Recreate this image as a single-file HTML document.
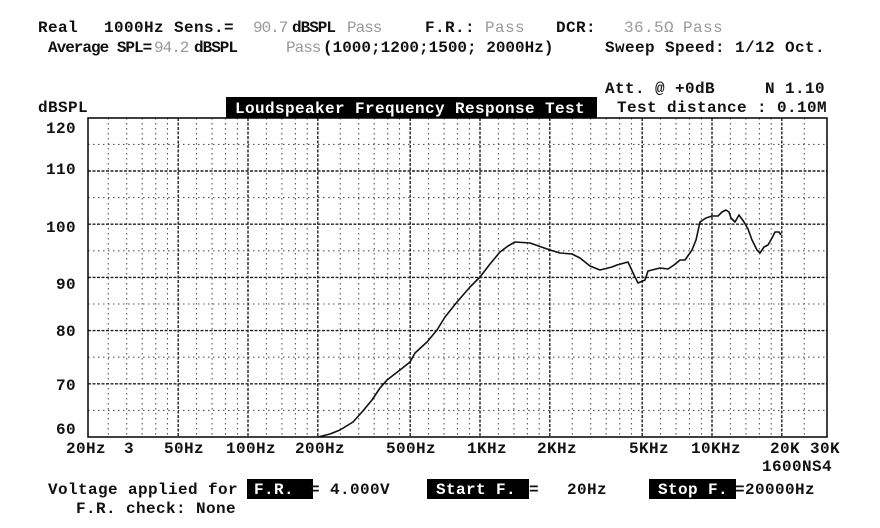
<!DOCTYPE html>
<html><head><meta charset="utf-8"><style>
html,body{margin:0;padding:0;background:#fff;width:880px;height:528px;overflow:hidden}
svg{display:block}
text{font-family:"Liberation Mono",monospace;font-weight:bold;font-size:16px;letter-spacing:0.4px;fill:#111}
.g{fill:#999;font-weight:normal}
.w{fill:#fff}
.n{letter-spacing:-1px}
</style></head><body>
<svg width="880" height="528" viewBox="0 0 880 528" xmlns="http://www.w3.org/2000/svg">
<rect width="880" height="528" fill="#fff"/>
<text x="38" y="32">Real</text>
<text x="104" y="32">1000Hz Sens.=</text>
<text x="253" y="32" class="g n">90.7</text>
<text x="292" y="32" class="n">dBSPL</text>
<text x="347" y="32" class="g n">Pass</text>
<text x="425" y="32">F.R.:</text>
<text x="485" y="32" class="g">Pass</text>
<text x="556" y="32">DCR:</text>
<text x="624" y="32" class="g">36.5Ω</text>
<text x="683" y="32" class="g">Pass</text>
<text x="48" y="52" class="n">Average SPL=</text>
<text x="154" y="52" class="g n">94.2</text>
<text x="194" y="52" class="n">dBSPL</text>
<text x="286" y="52" class="g n">Pass</text>
<text x="323" y="52" class="n" style="letter-spacing:0px">(1000;1200;1500; 2000Hz)</text>
<text x="605" y="52">Sweep Speed: 1/12 Oct.</text>
<text x="605" y="93">Att. @  +0dB</text>
<text x="765" y="93">N 1.10</text>
<text x="38" y="112">dBSPL</text>
<rect x="226" y="97" width="371" height="21" fill="#000"/>
<text x="235" y="113" class="w" font-weight="normal">Loudspeaker Frequency Response Test</text>
<text x="617" y="112">Test distance : 0.10M</text>
<g text-anchor="end">
<text x="76" y="133">120</text>
<text x="76" y="174">110</text>
<text x="76" y="232">100</text>
<text x="76" y="289">90</text>
<text x="76" y="336">80</text>
<text x="76" y="390">70</text>
<text x="76" y="434">60</text>
</g>
<path fill="none" stroke="#555" stroke-width="1.1" stroke-dasharray="1.5,3.5" d="
M108.3 118V437M126.7 118V437M142.2 118V437M155.7 118V437M167.5 118V437
M196.5 118V437M212.1 118V437M225.5 118V437M237.4 118V437
M266.4 118V437M281.9 118V437M295.4 118V437M307.2 118V437
M340.3 118V437M358.7 118V437M374.2 118V437M387.7 118V437M399.5 118V437
M428.5 118V437M444.1 118V437M457.5 118V437M469.4 118V437
M498.4 118V437M513.9 118V437M527.4 118V437M539.2 118V437
M572.3 118V437M590.7 118V437M606.2 118V437M619.7 118V437M631.5 118V437
M660.5 118V437M676.1 118V437M689.5 118V437M701.4 118V437
M730.4 118V437M745.9 118V437M759.4 118V437M771.2 118V437M804.3 118V437
M88 410.4H827M88 357.2H827M88 304H827M88 250.8H827M88 197.6H827M88 144.4H827"/>
<path fill="none" stroke="#222" stroke-width="1.4" stroke-dasharray="3,1.5" d="
M178.2 118V437M248 118V437M317.8 118V437M410.2 118V437M480 118V437M549.8 118V437M642.2 118V437M712 118V437M781.8 118V437
M88 383.8H827M88 330.6H827M88 277.4H827M88 224.2H827M88 171H827"/>
<rect x="88" y="118" width="739" height="319" fill="none" stroke="#000" stroke-width="1.5"/>
<polyline fill="none" stroke="#111" stroke-width="1.6" stroke-linejoin="round" points="318,437 330,434 340,430 353,422 362,412 372,400 380,388 387,380 400,370 410,362 415,353 427,342 437,330 445,317 457,302 470,287 480,277 490,264 500,252 508,246 515,242 530,243 550,250 560,253 572,254 580,258 590,266 600,270 612,267 617,265 628,262 634,275 638,283 645,280 648,271 660,268 668,269 674,265 680,260 685,260 692,250 696,240 700,222 706,218 712,216 718,216 722,212 726,210 729,212 731,218 735,222 739,215 744,222 748,229 752,240 757,250 760,253 764,247 768,245 772,238 775,232 779,232 781,235"/>
<text x="66" y="453">20Hz</text>
<text x="124" y="453">3</text>
<text x="164" y="453">50Hz</text>
<text x="226" y="453">100Hz</text>
<text x="295" y="453">200Hz</text>
<text x="386" y="453">500Hz</text>
<text x="467" y="453">1KHz</text>
<text x="537" y="453">2KHz</text>
<text x="629" y="453">5KHz</text>
<text x="691" y="453">10KHz</text>
<text x="770" y="453">20K</text>
<text x="810" y="453">30K</text>
<text x="762" y="471">1600NS4</text>
<text x="48" y="494">Voltage applied for</text>
<rect x="247" y="479" width="66" height="20" fill="#000"/>
<text x="254" y="494" class="w">F.R.</text>
<text x="310" y="494">= 4.000V</text>
<rect x="427" y="479" width="102" height="20" fill="#000"/>
<text x="436" y="494" class="w">Start F.</text>
<text x="529" y="494">=</text>
<text x="567" y="494">20Hz</text>
<rect x="649" y="479" width="87" height="20" fill="#000"/>
<text x="658" y="494" class="w">Stop F.</text>
<text x="735" y="494">=20000Hz</text>
<text x="76" y="513">F.R. check:  None</text>
</svg>
</body></html>
